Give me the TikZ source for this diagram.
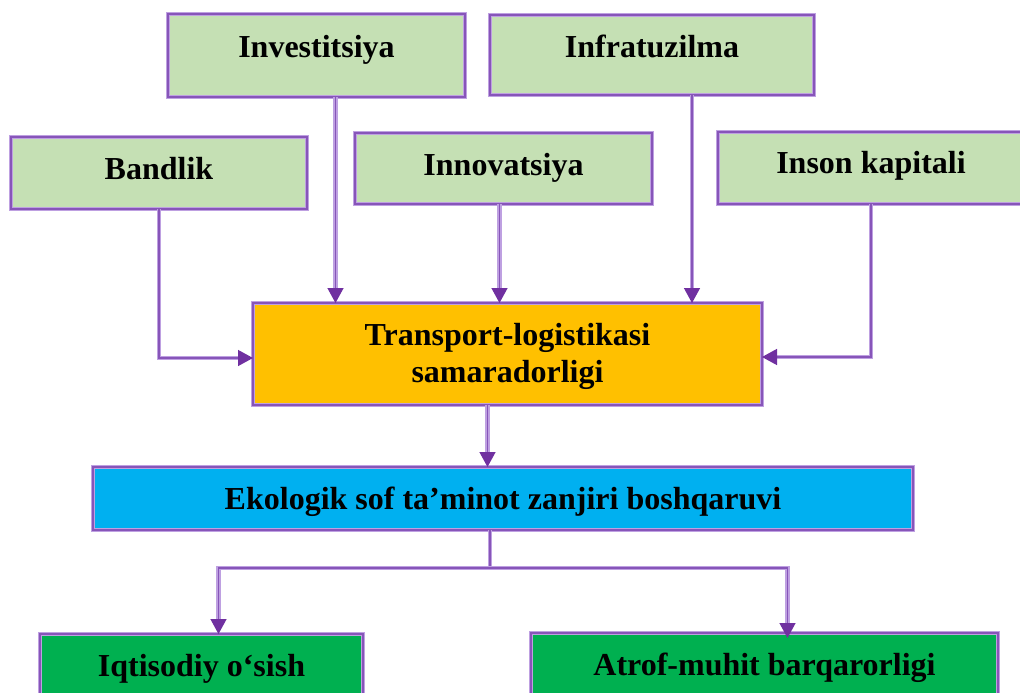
\documentclass[tikz,border=0pt]{standalone}
\usepackage{fontspec}
\setmainfont{Liberation Serif}
\usetikzlibrary{arrows.meta,calc}
\definecolor{lgreen}{HTML}{C5E0B4}
\definecolor{orng}{HTML}{FFC000}
\definecolor{sky}{HTML}{00B0F0}
\definecolor{grn}{HTML}{00B050}
\definecolor{plight}{RGB}{190,160,225}
\definecolor{pdark}{RGB}{135,85,185}
\definecolor{parrow}{RGB}{112,48,160}
\tikzset{
  box/.style={draw=plight, double=pdark, line width=1.3pt, double distance=1.4pt,
    inner sep=0pt, outer sep=0pt, anchor=north west,
    font=\bfseries\fontsize{32}{37}\selectfont, text=black},
  conn/.style={draw=plight, line width=4.4pt, shorten >=13pt,
    postaction={draw=pdark, line width=1.4pt, shorten >=0pt,
      -{Triangle[length=15pt,width=16pt,color=parrow,fill=parrow]}}},
  plain/.style={draw=plight, line width=4.4pt,
    postaction={draw=pdark, line width=1.4pt}},
}
\begin{document}
\begin{tikzpicture}[x=1pt,y=-1pt]
\useasboundingbox (0,0) rectangle (1020,693);
\clip (0,0) rectangle (1020,693);
% boxes
\node[box, fill=lgreen, minimum width=297, minimum height=83, text height=4pt, text depth=0pt] (inv) at (168,14) {Investitsiya};
\node[box, fill=lgreen, minimum width=324, minimum height=80, text height=5pt, text depth=0pt] (inf) at (490,15) {Infratuzilma};
\node[box, fill=lgreen, minimum width=296, minimum height=72, text height=13pt, text depth=0pt] (ban) at (11,137) {Bandlik};
\node[box, fill=lgreen, minimum width=297, minimum height=71, text height=13pt, text depth=0pt] (inn) at (355,133) {Innovatsiya};
\node[box, fill=lgreen, minimum width=306, minimum height=72, text height=10pt, text depth=0pt] (ins) at (718,132) {Inson kapitali};
\node[box, fill=orng, minimum width=509, minimum height=102, align=center, text height=56pt, text depth=0pt] (tr) at (253,303) {Transport-logistikasi\\samaradorligi};
\node[box, fill=sky, minimum width=820, minimum height=63, text height=21pt, text depth=0pt] (eko) at (93,467) {Ekologik sof ta’minot zanjiri boshqaruvi};
\node[box, fill=grn, minimum width=323, minimum height=86, text height=0pt, text depth=2pt] (iqt) at (40,634) {Iqtisodiy o‘sish};
\node[box, fill=grn, minimum width=467, minimum height=87, text height=0pt, text depth=3pt] (atr) at (531,633) {Atrof-muhit barqarorligi};
% connectors
\draw[conn] ([xshift=19pt]inv.south) -- ([xshift=19pt]inv.south |- tr.north);
\draw[conn] ([xshift=40pt]inf.south) -- ([xshift=40pt]inf.south |- tr.north);
\draw[conn] ([xshift=-4pt]inn.south) -- ([xshift=-4pt]inn.south |- tr.north);
\draw[conn] (ban.south) |- ([yshift=-4pt]tr.west);
\draw[conn] (ins.south) |- ([yshift=-3pt]tr.east);
\draw[conn] ([xshift=-20pt]tr.south) -- ([xshift=-20pt]tr.south |- eko.north);
\coordinate (split) at ($([xshift=-13pt]eko.south)+(0,38)$);
\draw[plain] ([xshift=-13pt]eko.south) -- (split);
\draw[conn] (split) -| ([xshift=17pt]iqt.north);
\draw[conn] (split) -| ([xshift=23pt,yshift=-5pt]atr.north);
\end{tikzpicture}
\end{document}
